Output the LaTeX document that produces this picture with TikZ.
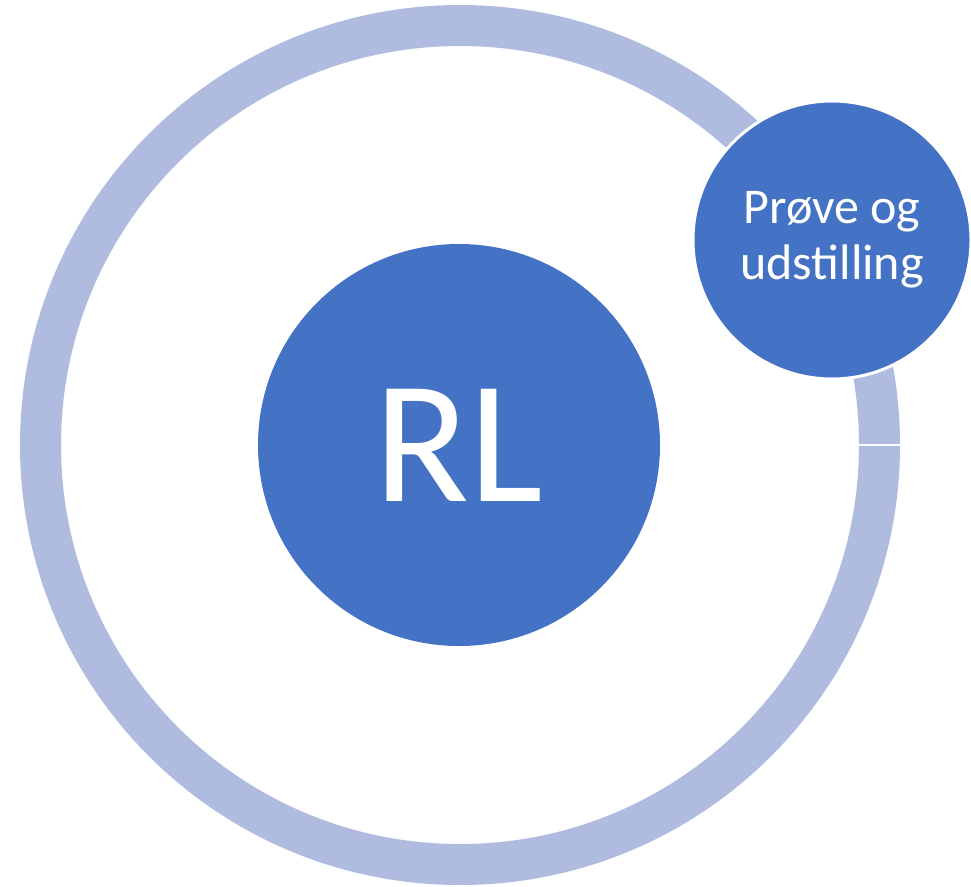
\documentclass[tikz,border=0pt]{standalone}
\usepackage{fontspec}
\setmainfont{Carlito}
\usepackage{tikz}
\usetikzlibrary{positioning}
\definecolor{ringblue}{RGB}{176,188,223}
\definecolor{darkblue}{RGB}{68,114,196}
\tikzset{ring/.style = {draw = ringblue, circle, line width = 41, inner sep = 0}}
\tikzset{bubble/.style = {fill = darkblue, circle, inner sep = 0, text = white, align = center}}

\begin{document}
\begin{tikzpicture}[x = 1pt, y = -1pt]
      \useasboundingbox (0, 0) rectangle (971, 886);
      \node [ring, minimum size = 839] (ring) at (460, 445) {};
      \draw [white, line width = 2] ([xshift = -42pt] ring.east) -- (ring.east);
      \node [bubble, minimum size = 402,
             font = \fontsize{175}{175}\selectfont] (rl) at (459, 445) {RL};
      \node [bubble, minimum size = 278, draw = white, line width = 3,
             font = \fontsize{50}{56}\selectfont] (proeve) at (832, 240) {Prøve og\\udstilling};
    \end{tikzpicture}
\end{document}
